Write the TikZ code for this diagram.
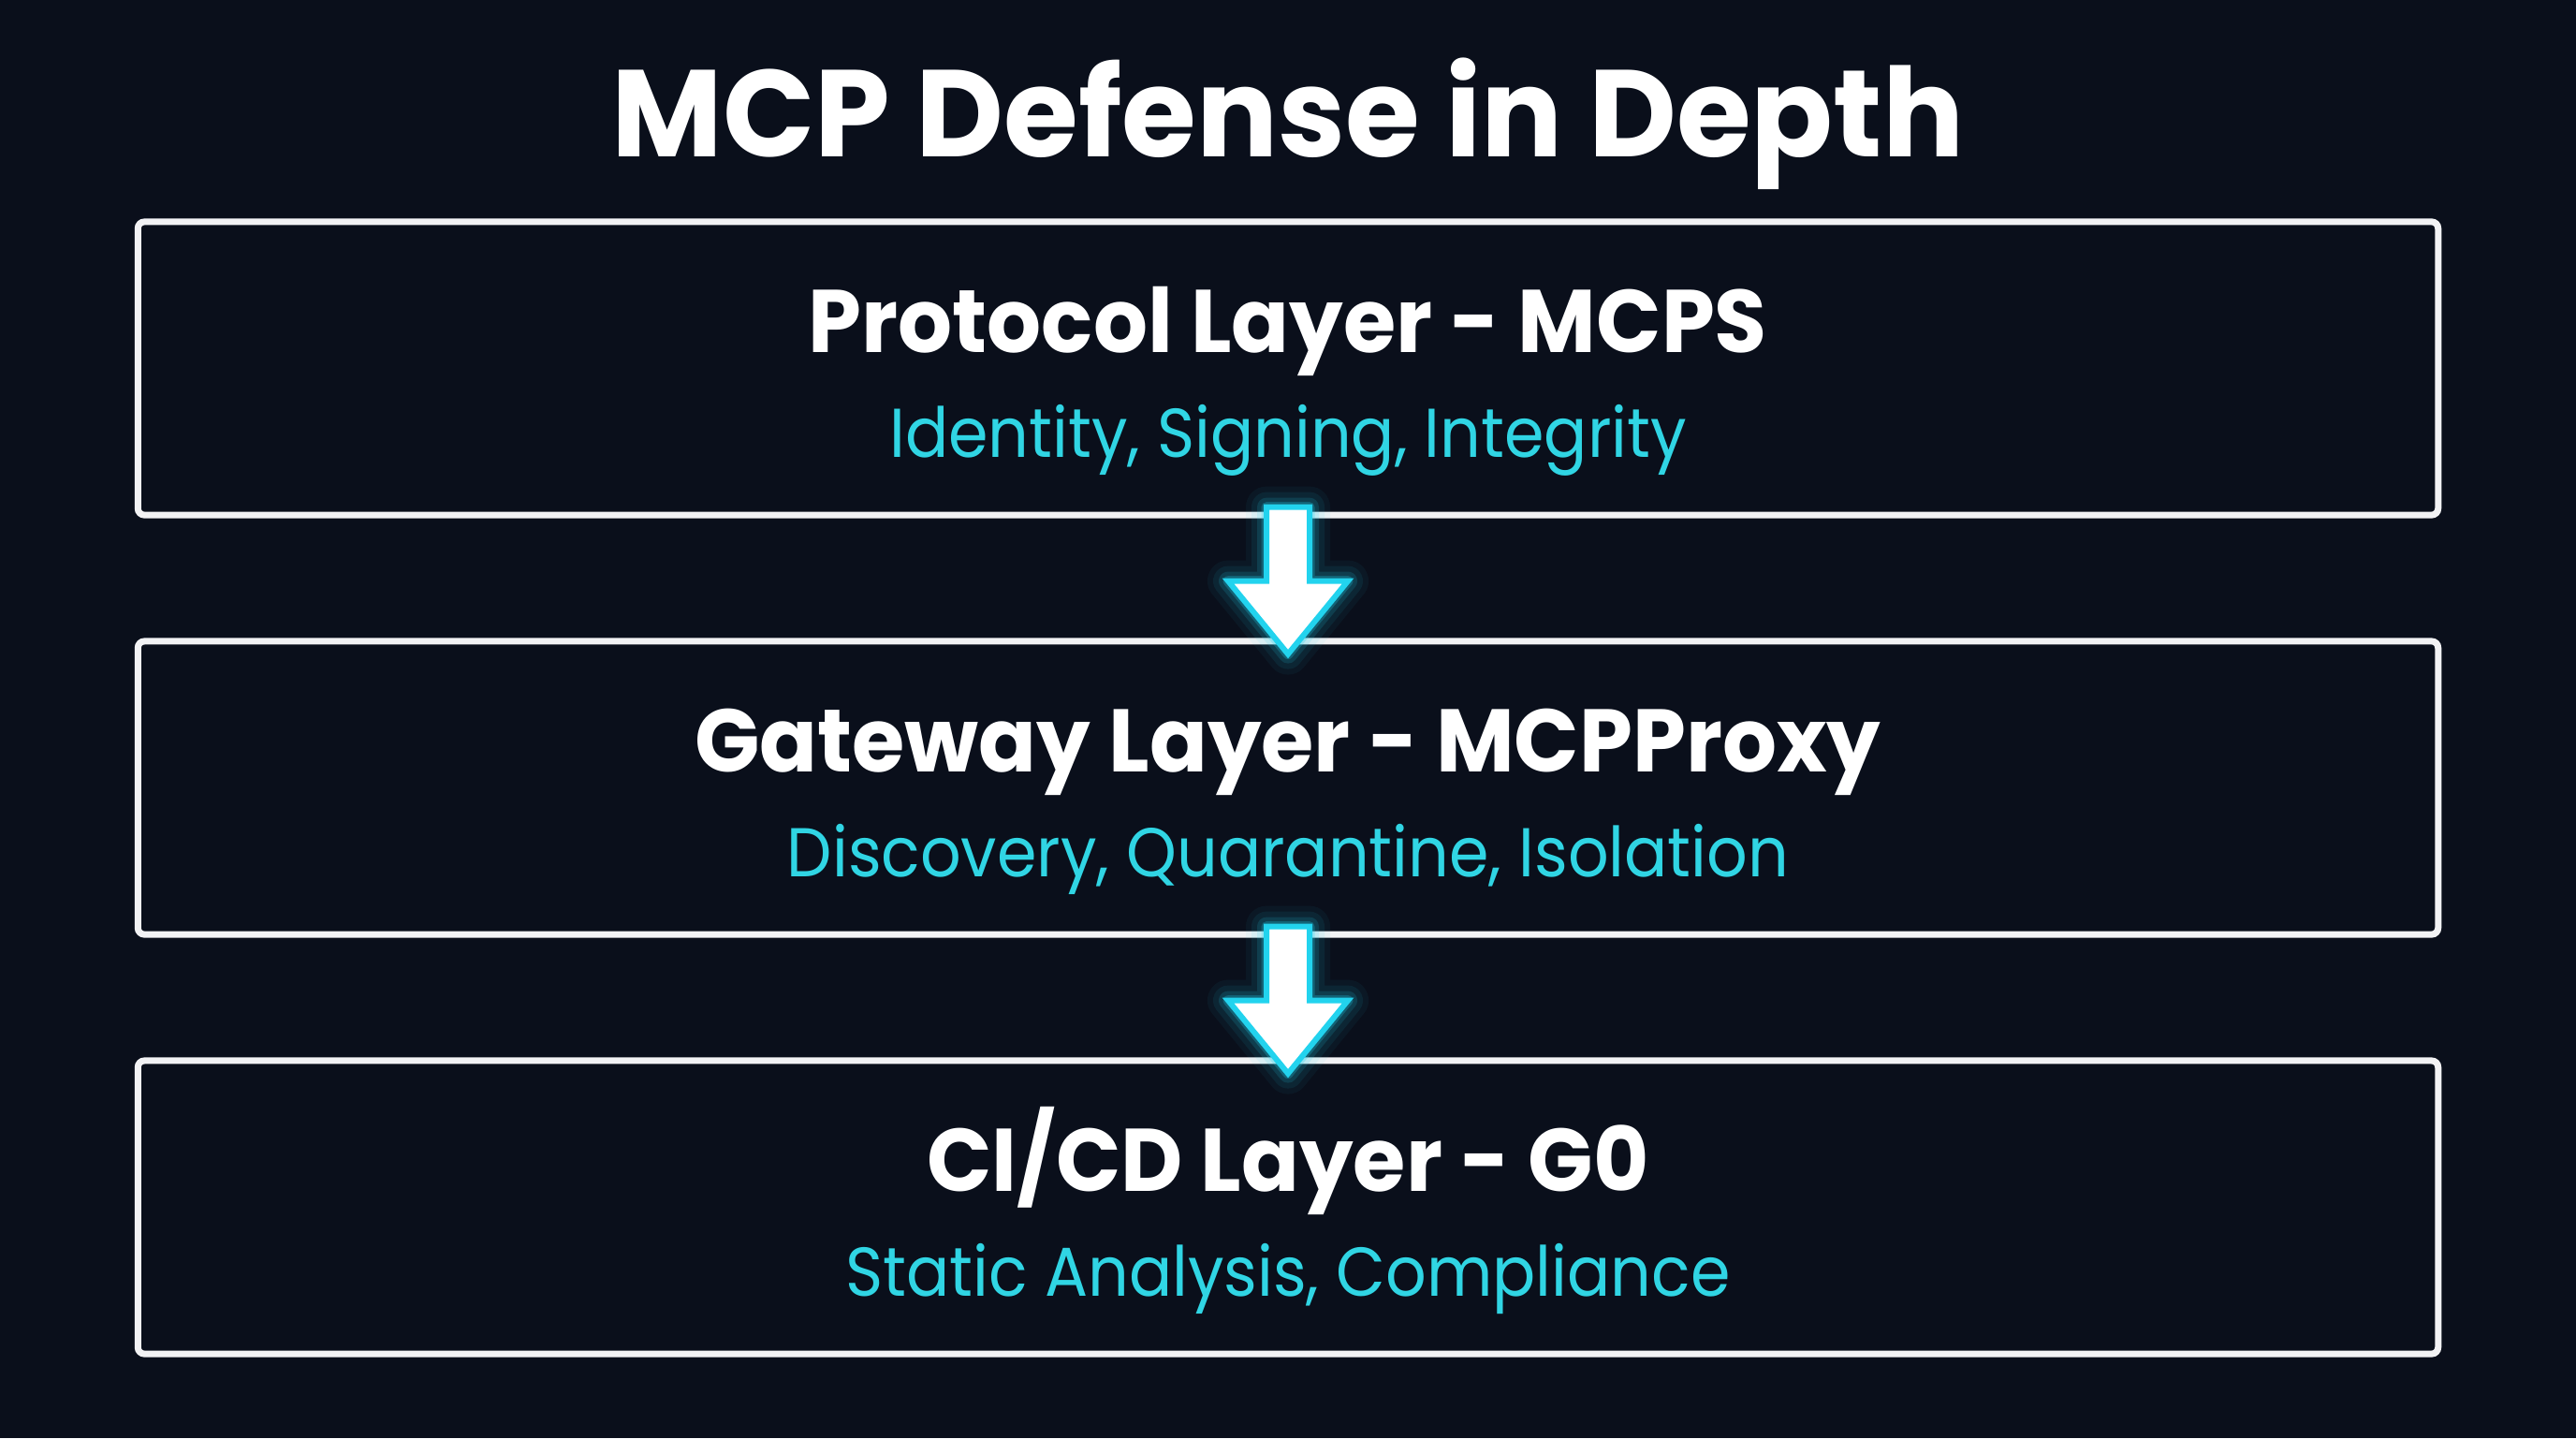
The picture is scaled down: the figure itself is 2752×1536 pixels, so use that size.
\documentclass[tikz,border=0pt]{standalone}
\usepackage{fontspec}
\newfontfamily\popfont{Poppins}
\newfontfamily\poptitle{Poppins}[FakeStretch=0.98]
\newfontfamily\poplayer{Poppins}[FakeStretch=0.96]
\newfontfamily\popsub{Poppins}[FakeStretch=0.926]
\usetikzlibrary{calc}
\definecolor{bgcol}{HTML}{0A0F1B}
\definecolor{cyantext}{HTML}{30D5E4}
\definecolor{cyanglow}{HTML}{22D3EE}
\definecolor{boxline}{HTML}{F2F2F4}
\tikzset{
  layerbox/.style={draw=boxline, line width=0.07cm, rounded corners=0.07cm,
    minimum width=24.56cm, minimum height=3.13cm, inner sep=0pt, fill=bgcol},
  titletext/.style={text=white, anchor=base, inner sep=0pt, font=\poptitle\bfseries\fontsize{37.5}{40}\selectfont},
  layertitle/.style={text=white, anchor=base, inner sep=0pt, font=\poplayer\bfseries\fontsize{27}{30}\selectfont},
  layersub/.style={text=cyantext, anchor=base, inner sep=0pt, font=\popsub\fontsize{21}{24}\selectfont},
  pics/downarrow/.style={code={
    \foreach \w/\o in {44/0.05, 32/0.08, 20/0.14, 11/0.25}{
      \draw[cyanglow, line width=\w*0.01cm, opacity=\o, line join=round]
        (-23,-12) -- (23,-12) -- (23,67) -- (64,67) -- (0,145) -- (-64,67) -- (-23,67) -- cycle;
    }
    \draw[cyanglow, fill=white, line width=0.06cm, line join=miter]
      (-23,-12) -- (23,-12) -- (23,67) -- (64,67) -- (0,145) -- (-64,67) -- (-23,67) -- cycle;
  }}
}
\begin{document}
\begin{tikzpicture}[x=0.01cm, y=-0.01cm]
\fill[bgcol] (0,0) rectangle (2752,1536);
\useasboundingbox (0,0) rectangle (2752,1536);
\node[titletext] (title) at (1376,167) {MCP Defense in Depth};
\node[layerbox] (b1) at (1376,393.5) {};
\node[layerbox] (b2) at (1376,841.5) {};
\node[layerbox] (b3) at (1376,1289.5) {};
\node[layertitle] (t1) at (1376,376) {Protocol Layer - MCPS};
\node[layersub] (s1) at (1376,488) {Identity, Signing, Integrity};
\node[layertitle] (t2) at (1376,824) {Gateway Layer - MCPProxy};
\node[layersub] (s2) at (1376,936) {Discovery, Quarantine, Isolation};
\node[layertitle] (t3) at (1376,1272) {CI/CD Layer - G0};
\node[layersub] (s3) at (1376,1384) {Static Analysis, Compliance};
\pic at (b1.south) {downarrow};
\pic at (b2.south) {downarrow};
\end{tikzpicture}
\end{document}
